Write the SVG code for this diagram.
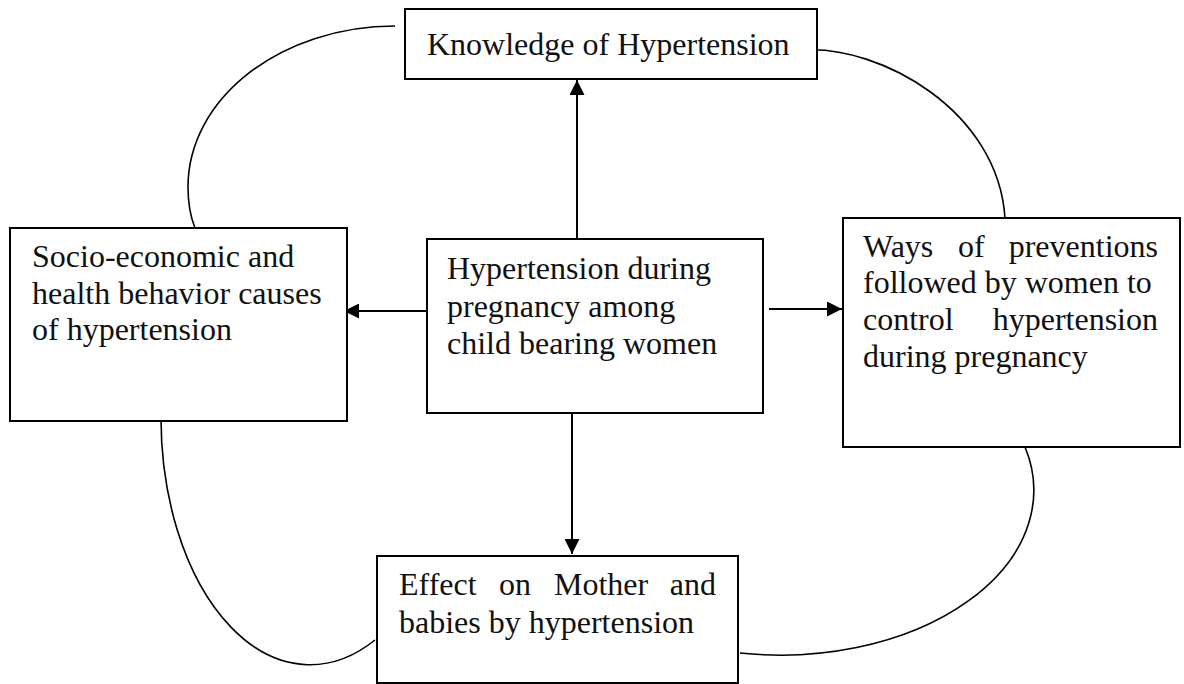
<svg xmlns="http://www.w3.org/2000/svg" width="1184" height="684" viewBox="0 0 1184 684">
<style>
.box{fill:#fff;stroke:#000;stroke-width:2}
.t{font-family:"Liberation Serif","Times New Roman",serif;font-size:32px;fill:#111}
.cv{fill:none;stroke:#000;stroke-width:1.6}
.ar{fill:none;stroke:#000;stroke-width:2}
</style>
<defs>
<marker id="ah" markerWidth="15" markerHeight="15" refX="15" refY="7.5" orient="auto" markerUnits="userSpaceOnUse"><path d="M0,0 L15,7.5 L0,15 Z" fill="#000"/></marker>
</defs>
<rect width="1184" height="684" fill="#fff"/>
<g id="connectors">
<path class="cv" d="M395,26 C281,26 188,98 188,187 C188,205 191,218 195,228"/>
<path class="cv" d="M805,50 C880,46 998,110 1005,218"/>
<path class="cv" d="M1025,447 A253,165 0 0 1 740,653"/>
<path class="cv" d="M161,418 A149,247 0 0 0 375,640"/>
<line class="ar" x1="577" y1="239" x2="577" y2="80" marker-end="url(#ah)"/>
<line class="ar" x1="427" y1="311" x2="344" y2="311" marker-end="url(#ah)"/>
<line class="ar" x1="769" y1="309" x2="842" y2="309" marker-end="url(#ah)"/>
<line class="ar" x1="572" y1="410" x2="572" y2="554" marker-end="url(#ah)"/>
</g>
<g id="knowledge">
<rect class="box" x="405" y="9" width="412" height="70"/>
<text class="t" x="427" y="55">Knowledge of Hypertension</text>
</g>
<g id="socio">
<rect class="box" x="10" y="228" width="337" height="193"/>
<text class="t"><tspan x="32" y="267">Socio-economic and</tspan><tspan x="32" y="304">health behavior causes</tspan><tspan x="32" y="340">of hypertension</tspan></text>
</g>
<g id="center">
<rect class="box" x="427" y="239" width="336" height="174"/>
<text class="t"><tspan x="447" y="279">Hypertension during</tspan><tspan x="447" y="317">pregnancy among</tspan><tspan x="447" y="354">child bearing women</tspan></text>
</g>
<g id="ways">
<rect class="box" x="843" y="218" width="337" height="229"/>
<text class="t"><tspan x="863" y="257">Ways</tspan><tspan x="958" y="257">of</tspan><tspan x="1158" y="257" text-anchor="end">preventions</tspan></text>
<text class="t" x="863" y="293">followed by women to</text>
<text class="t"><tspan x="863" y="330">control</tspan><tspan x="1158" y="330" text-anchor="end">hypertension</tspan></text>
<text class="t" x="863" y="367">during pregnancy</text>
</g>
<g id="effect">
<rect class="box" x="377" y="556" width="361" height="127"/>
<text class="t"><tspan x="399" y="595">Effect</tspan><tspan x="499" y="595">on</tspan><tspan x="554" y="595">Mother</tspan><tspan x="716" y="595" text-anchor="end">and</tspan></text>
<text class="t" x="399" y="633">babies by hypertension</text>
</g>
</svg>
